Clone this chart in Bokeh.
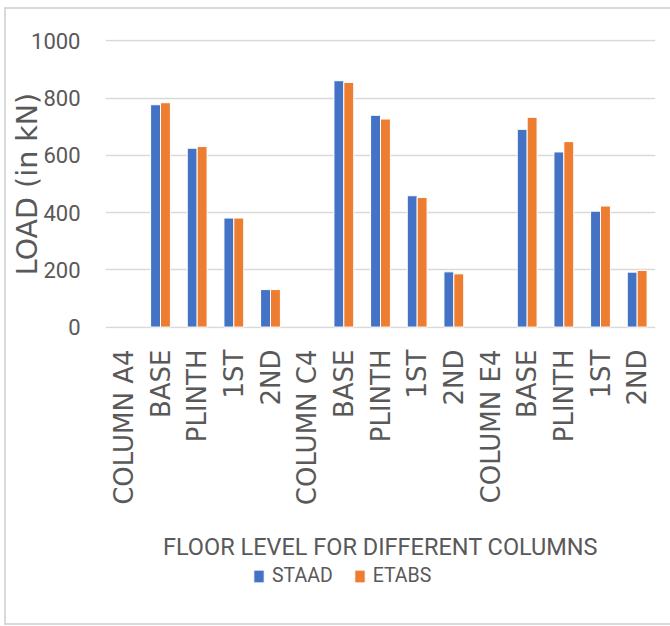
from math import pi

from bokeh.embed import file_html
from bokeh.layouts import column
from bokeh.models import ColumnDataSource, FixedTicker, Legend, LegendItem, Range1d
from bokeh.plotting import figure
from bokeh.resources import INLINE
from bokeh.transform import dodge

# Floor levels for each column (column headers carry no bars)
categories = ["COLUMN A4", "BASE", "PLINTH", "1ST", "2ND",
              "COLUMN C4", "BASE", "PLINTH", "1ST", "2ND",
              "COLUMN E4", "BASE", "PLINTH", "1ST", "2ND"]

# Axial load (kN) from each program
staad = [None, 777, 625, 381, 131, None, 861, 740, 459, 193, None, 691, 612, 405, 192]
etabs = [None, 784, 631, 381, 131, None, 855, 727, 453, 186, None, 733, 648, 423, 198]

series_names = ["STAAD", "ETABS"]
y_ticks = [0, 200, 400, 600, 800, 1000]

BLUE = "#4472C4"
ORANGE = "#ED7D31"
GRID = "#d9d9d9"
TEXT = "#595959"
FLAT = "Roboto"
WIDE = "DejaVu Sans"


def bar_source(values):
    xs = [i for i, v in enumerate(values) if v is not None]
    tops = [v for v in values if v is not None]
    return ColumnDataSource(dict(x=xs, top=tops))


# ---- main chart -------------------------------------------------------------
# small padding on the value range keeps the 0 and 1000 grid lines fully inside
p = figure(width=670, height=564, output_backend="svg", toolbar_location=None,
           x_range=Range1d(-0.5, len(categories) - 0.5), y_range=Range1d(-5, 1005),
           min_border_left=105, min_border_right=15, min_border_top=39,
           min_border_bottom=236)
p.outline_line_color = None
p.background_fill_alpha = 0
p.border_fill_alpha = 0

p.vbar(x=dodge("x", -0.135, range=p.x_range), top="top", bottom=0, width=0.27,
       source=bar_source(staad), fill_color=BLUE, line_color="white", line_width=1)
p.vbar(x=dodge("x", 0.135, range=p.x_range), top="top", bottom=0, width=0.27,
       source=bar_source(etabs), fill_color=ORANGE, line_color="white", line_width=1)

# x axis: one vertical label per floor level
xa = p.xaxis[0]
xa.ticker = FixedTicker(ticks=list(range(len(categories))))
xa.major_label_overrides = {i: c for i, c in enumerate(categories)}
xa.major_label_orientation = pi / 2
xa.major_label_text_font = WIDE
xa.major_label_text_font_size = "26px"
xa.major_label_text_color = TEXT
xa.major_label_standoff = 15
xa.axis_line_color = None
xa.major_tick_line_color = None
xa.minor_tick_line_color = None
xa.axis_label = "FLOOR LEVEL FOR DIFFERENT COLUMNS"
xa.axis_label_text_font = FLAT
xa.axis_label_text_font_size = "23.5px"
xa.axis_label_text_font_style = "normal"
xa.axis_label_text_color = TEXT
xa.axis_label_standoff = 25

# y axis
ya = p.yaxis[0]
ya.ticker = FixedTicker(ticks=y_ticks)
ya.major_label_text_font = FLAT
ya.major_label_text_font_size = "22px"
ya.major_label_text_color = TEXT
ya.major_label_standoff = 19
ya.axis_line_color = None
ya.major_tick_line_color = None
ya.minor_tick_line_color = None
ya.axis_label = "LOAD (in kN)"
ya.axis_label_text_font = WIDE
ya.axis_label_text_font_size = "28.5px"
ya.axis_label_text_font_style = "normal"
ya.axis_label_text_color = TEXT
ya.axis_label_standoff = -16

p.xgrid.grid_line_color = None
p.ygrid.grid_line_color = GRID
p.ygrid.grid_line_width = 1.6

# ---- legend strip -----------------------------------------------------------
lg = figure(width=670, height=62, output_backend="svg", toolbar_location=None,
            x_range=Range1d(0, 1), y_range=Range1d(0, 1),
            x_axis_location=None, y_axis_location=None,
            min_border=0, min_border_left=0, min_border_right=0,
            min_border_top=0, min_border_bottom=0)
lg.outline_line_color = None
lg.background_fill_alpha = 0
lg.border_fill_alpha = 0
lg.xgrid.visible = False
lg.ygrid.visible = False

# swatch renderers sit outside the strip's range; only their legend glyphs show
swatches = [lg.vbar(x=[-10], top=[0], width=0.27, fill_color=c, line_color="white",
                    line_width=1) for c in (BLUE, ORANGE)]
legend = Legend(items=[LegendItem(label=n, renderers=[r])
                       for n, r in zip(series_names, swatches)],
                orientation="horizontal", location=(147, 39),
                padding=0, margin=0, spacing=20, label_standoff=7,
                glyph_width=13, glyph_height=16, label_height=16,
                label_text_font=FLAT, label_text_font_size="19.5px",
                label_text_color=TEXT, border_line_color=None,
                background_fill_alpha=0)
lg.add_layout(legend)

# light frame around the chart area (right edge runs past the page)
page = column(p, lg, spacing=0, styles={
    "background": "white",
    "box-shadow": (
        "inset 4px 0 0 0 white, inset 0 7px 0 0 white, inset 0 -1px 0 0 white, "
        f"inset 6px 0 0 0 {GRID}, inset 0 9px 0 0 {GRID}, inset 0 -3px 0 0 {GRID}"
    ),
})

open("out.html", "w").write(file_html(page, INLINE))
